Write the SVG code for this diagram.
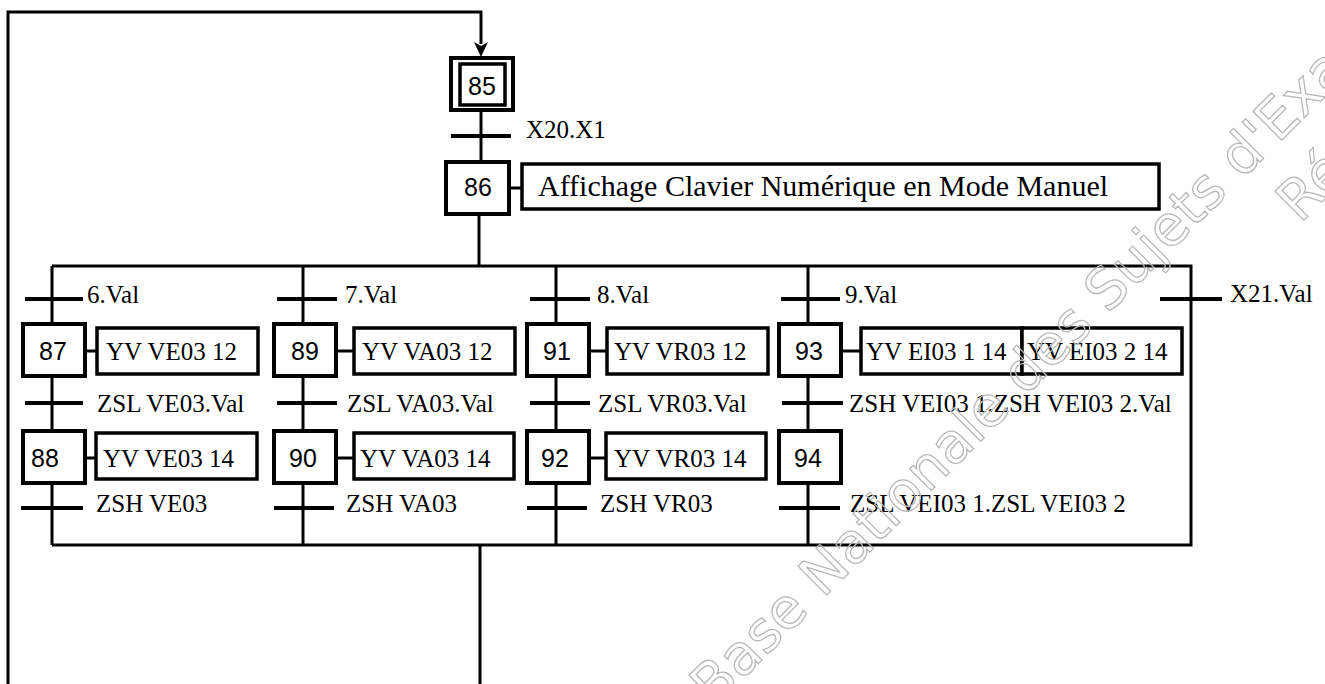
<svg xmlns="http://www.w3.org/2000/svg" width="1325" height="684" viewBox="0 0 1325 684">
<style>
.bg{fill:#fff}
.ln{stroke:#000;stroke-width:3;fill:none}
.tr{stroke:#000;stroke-width:4;fill:none}
.box{stroke:#000;stroke-width:4;fill:#fff}
.act{stroke:#000;stroke-width:3.5;fill:#fff}
.num{font-family:"Liberation Sans",Arial,sans-serif;font-size:25px;fill:#000;text-anchor:middle}
.lbl{font-family:"Liberation Serif","Times New Roman",serif;font-size:25px;fill:#000}
.wm{font-family:"DejaVu Sans",sans-serif;font-size:56px;fill:none;stroke:#b8b8b8;stroke-width:1.3}
</style>
<rect class="bg" x="0" y="0" width="1325" height="684"/>
<g id="connectors">
  <path class="ln" d="M8,684 V12 H481 V44"/>
  <path d="M474,42 L481,57 L488,42 L481,46 Z" fill="#000"/>
  <path class="ln" d="M481,111 V162"/>
  <path class="ln" d="M479,215 V266"/>
  <path class="ln" d="M509,188 H522"/>
  <path class="ln" d="M52,266 H1191 V545 H52"/>
  <path class="ln" d="M52,266 V324 M52,376 V431 M52,483 V545"/>
  <path class="ln" d="M303,266 V324 M303,376 V431 M303,483 V545"/>
  <path class="ln" d="M556,266 V324 M556,376 V431 M556,483 V545"/>
  <path class="ln" d="M808,266 V324 M808,376 V431 M808,483 V545"/>
  <path class="ln" d="M480,545 V684"/>
  <path class="ln" d="M85,351 H97 M336,351 H354 M589,351 H607 M841,351 H861"/>
  <path class="ln" d="M62,458 H96 M336,458 H354 M589,458 H606"/>
</g>
<g id="transitions">
  <path class="tr" d="M451,136 H511"/>
  <text class="lbl" x="526" y="138">X20.X1</text>
  <path class="tr" d="M25,299 H83 M277,299 H337 M530,299 H590 M781,299 H840 M1160,299 H1222"/>
  <text class="lbl" x="87" y="303">6.Val</text>
  <text class="lbl" x="345" y="303">7.Val</text>
  <text class="lbl" x="597" y="303">8.Val</text>
  <text class="lbl" x="845" y="303">9.Val</text>
  <text class="lbl" x="1230" y="302">X21.Val</text>
  <path class="tr" d="M25,403 H83 M277,403 H337 M530,403 H590 M782,403 H843"/>
  <text class="lbl" x="97" y="412">ZSL VE03.Val</text>
  <text class="lbl" x="347" y="412">ZSL VA03.Val</text>
  <text class="lbl" x="598" y="412">ZSL VR03.Val</text>
  <text class="lbl" x="849" y="412">ZSH VEI03 1.ZSH VEI03 2.Val</text>
  <path class="tr" d="M21,508 H83 M274,508 H334 M527,508 H587 M779,508 H840"/>
  <text class="lbl" x="96" y="512">ZSH VE03</text>
  <text class="lbl" x="346" y="512">ZSH VA03</text>
  <text class="lbl" x="600" y="512">ZSH VR03</text>
  <text class="lbl" x="850" y="512">ZSL VEI03 1.ZSL VEI03 2</text>
</g>
<g id="step85">
  <rect class="box" x="451" y="58" width="62" height="52"/>
  <rect class="act" x="460" y="64" width="45" height="41"/>
  <text class="num" x="482" y="95">85</text>
</g>
<g id="step86">
  <rect class="box" x="446" y="162" width="63" height="52"/>
  <text class="num" x="478" y="196">86</text>
</g>
<g id="action86">
  <rect class="act" x="522" y="164" width="637" height="45"/>
  <text class="lbl" x="538" y="196" style="font-size:30px">Affichage Clavier Numérique en Mode Manuel</text>
</g>
<g id="step87"><rect class="box" x="23" y="324" width="62" height="52"/><text class="num" x="53" y="360">87</text></g>
<g id="action87"><rect class="act" x="97" y="328" width="161" height="46"/><text class="lbl" x="106" y="360">YV VE03 12</text></g>
<g id="step88"><rect class="box" x="23" y="431" width="62" height="52"/><text class="num" x="45" y="467">88</text></g>
<g id="action88"><rect class="act" x="96" y="433" width="161" height="46"/><text class="lbl" x="103" y="467">YV VE03 14</text></g>
<g id="step89"><rect class="box" x="274" y="324" width="62" height="52"/><text class="num" x="305" y="360">89</text></g>
<g id="action89"><rect class="act" x="354" y="328" width="161" height="46"/><text class="lbl" x="362" y="360">YV VA03 12</text></g>
<g id="step90"><rect class="box" x="274" y="431" width="62" height="52"/><text class="num" x="303" y="467">90</text></g>
<g id="action90"><rect class="act" x="354" y="433" width="160" height="46"/><text class="lbl" x="360" y="467">YV VA03 14</text></g>
<g id="step91"><rect class="box" x="527" y="324" width="62" height="52"/><text class="num" x="557" y="360">91</text></g>
<g id="action91"><rect class="act" x="607" y="328" width="161" height="46"/><text class="lbl" x="614" y="360">YV VR03 12</text></g>
<g id="step92"><rect class="box" x="527" y="431" width="62" height="52"/><text class="num" x="555" y="467">92</text></g>
<g id="action92"><rect class="act" x="606" y="433" width="160" height="46"/><text class="lbl" x="614" y="467">YV VR03 14</text></g>
<g id="step93"><rect class="box" x="779" y="324" width="62" height="52"/><text class="num" x="809" y="360">93</text></g>
<g id="action93"><rect class="act" x="861" y="328" width="161" height="46"/><text class="lbl" x="866" y="360">YV EI03 1 14</text><rect class="act" x="1022" y="328" width="160" height="46"/><text class="lbl" x="1027" y="360">YV EI03 2 14</text></g>
<g id="step94"><rect class="box" x="779" y="431" width="62" height="52"/><text class="num" x="808" y="467">94</text></g>
<g id="watermark">
  <text class="wm" transform="translate(714,708) rotate(-45)">Base Nationale des Sujets d'Examens</text>
  <text class="wm" transform="translate(1300,224) rotate(-45)">Ré</text>
</g>
</svg>
